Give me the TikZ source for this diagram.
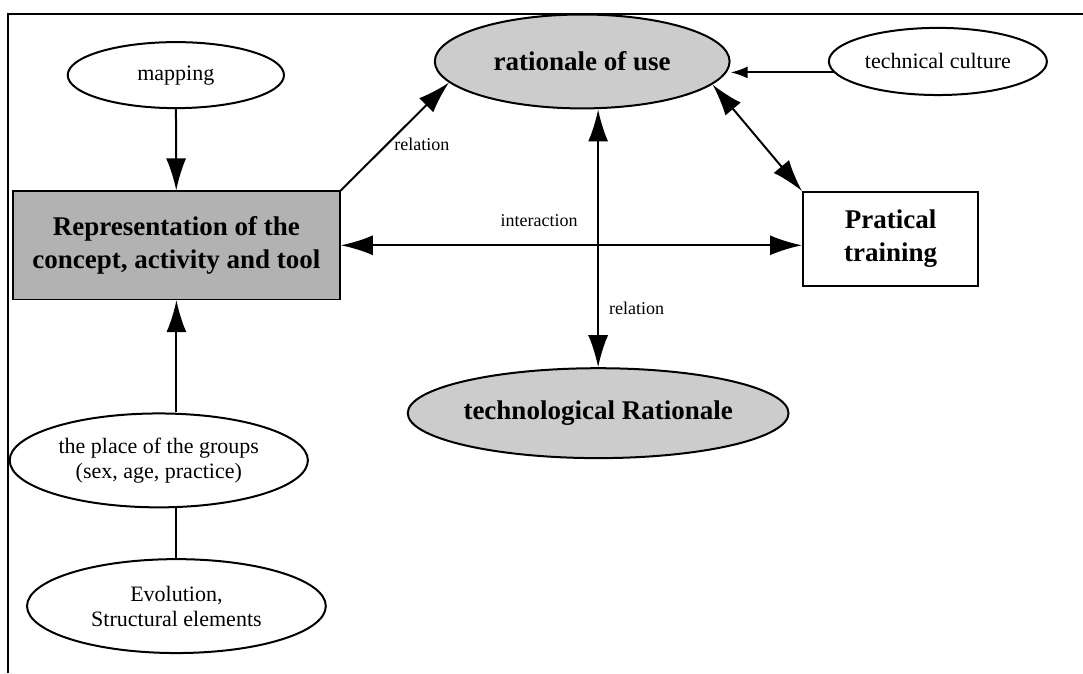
\documentclass[tikz,border=0pt]{standalone}
\usepackage{fontspec}
\setmainfont{Liberation Serif}
\usetikzlibrary{shapes}
\usetikzlibrary{positioning}
\usetikzlibrary{arrows.meta}
\tikzset{
    oval/.style = {ellipse, line width=1pt, draw=black, align=center, inner sep=0pt, fill=white,
                   font=\fontsize{11}{12.5}\selectfont},
    ovalg/.style = {ellipse, line width=1pt, draw=black, align=center, inner sep=0pt, fill=gray!40,
                   font=\fontsize{13.5}{16.5}\selectfont\bfseries},
    boxg/.style = {rectangle, thick, draw=black, align=center, fill=gray!60,
                   font=\fontsize{13.5}{16.5}\selectfont\bfseries},
    boxw/.style = {rectangle, line width=1pt, draw=black, align=center, fill=white,
                   font=\fontsize{13.5}{16.5}\selectfont\bfseries},
    lbl/.style = {font=\fontsize{9}{10}\selectfont, inner sep=1pt},
    edgen/.style = {-{Latex[length=16pt,width=10pt]},line width=1pt},
    edged/.style = {{Latex[length=16pt,width=10pt]}-{Latex[length=16pt,width=10pt]},line width=1pt},
    edges/.style = {-{Latex[length=8.5pt,width=6pt]},line width=1pt},
    edgel/.style = {line width=1pt}
}

\begin{document}
\begin{tikzpicture}
\useasboundingbox (0,0) rectangle (19.03,11.83);
\draw[line width=1pt] (0.14,0) -- (0.14,11.58) -- (19.03,11.58);
%
\node[oval, minimum width=3.80cm, minimum height=1.16cm] at (3.09, 10.51) (map) {mapping};
\node[boxg, minimum width=5.75cm, minimum height=1.90cm] at (3.10, 7.52) (rep) {Representation of the\\concept, activity and tool};
\node[ovalg, minimum width=5.18cm, minimum height=1.65cm] at (10.23, 10.75) (ru) {rationale of use};
\node[oval, minimum width=3.83cm, minimum height=1.18cm] at (16.48, 10.75) (tc) {technical culture};
\node[boxw, minimum width=3.08cm, minimum height=1.65cm] at (15.65, 7.63) (pt) {Pratical\\training};
\node[ovalg, minimum width=5.73cm, minimum height=1.58cm] at (10.51, 4.57) (tr) {technological Rationale};
\node[oval, minimum width=5.24cm, minimum height=1.65cm] at (2.79, 3.74) (grp) {the place of the groups\\(sex, age, practice)};
\node[oval, minimum width=5.25cm, minimum height=1.65cm] at (3.10, 1.18) (evo) {Evolution,\\Structural elements};
%
\draw[edgen] (map) -- (rep);
\draw[edgen] (rep.north east) -- node[lbl, right=2pt, pos=0.43] {relation} (ru.189);
\draw[edges] (tc.186) -- (tc.186 -| ru.east);
\draw[edged] (ru.350) -- (pt.north west);
\draw[edged] (rep.east) -- node[lbl, above=8pt, pos=0.43] {interaction} (rep.east -| pt.west);
\draw[edged] (ru.south -| tr.north) -- node[lbl, right=4pt, pos=0.77] {relation} (tr.north);
\draw[edgen] (grp.north -| rep.south) -- (rep.south);
\draw[edgel] (evo.north) -- (evo.north |- grp.south);
\end{tikzpicture}
\end{document}
